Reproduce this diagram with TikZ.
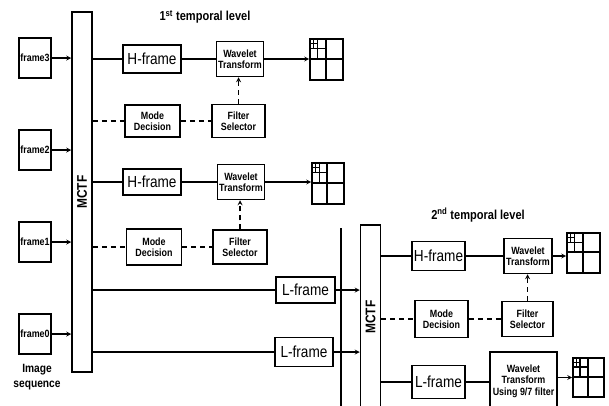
\documentclass[tikz,border=0pt]{standalone}
\usepackage{fontspec}
\setmainfont{Liberation Sans}[FakeStretch=0.85]

\tikzset{
  blk/.style={draw, line width=1.5pt, inner sep=0pt, align=center,
    font=\bfseries\fontsize{10.5}{11.5}\selectfont},
  seq/.style={blk, minimum width=32pt, minimum height=40pt},
  frm/.style={draw, line width=1.5pt, inner sep=0pt, font=\fontsize{16}{18}\selectfont},
  mctf/.style={draw, line width=1.5pt, minimum width=20pt, inner sep=0pt},
  bands/.style={draw, line width=1.6pt, inner sep=0pt},
  lnk/.style={line width=1.2pt},
  dsh/.style={lnk, dash pattern=on 5pt off 4pt},
  ttl/.style={font=\bfseries\fontsize{13}{15}\selectfont}
}

% sub-band picture inside a box node: name, width, height
\newcommand{\subbands}[3]{%
  \begin{scope}[shift={(#1.north west)}, x=#2pt, y=-#3pt]
    \draw[line width=1.6pt] (0.5,0) -- (0.5,1) (0,0.5) -- (1,0.5);
    \draw[line width=1.3pt] (0.25,0) -- (0.25,0.5) (0,0.25) -- (0.5,0.25);
    \draw[line width=1pt] (0.125,0) -- (0.125,0.25) (0,0.125) -- (0.25,0.125);
  \end{scope}}

\begin{document}
\begin{tikzpicture}[x=1pt, y=-1pt, >=stealth]
  \clip (0,0) rectangle (609,405);
  \useasboundingbox (0,0) rectangle (609,405);

  % image sequence
  \node[seq] (f3) at (35,58) {frame3};
  \node[seq] (f2) at (35,150) {frame2};
  \node[seq] (f1) at (35,242) {frame1};
  \node[seq] (f0) at (35,334) {frame0};
  \node[align=center, font=\bfseries\fontsize{12}{15}\selectfont] (iseq) at (37,377) {Image\\sequence};

  % 1st temporal level
  \node[ttl] (tA) at (205,17) {1\textsuperscript{st} temporal level};
  \node[mctf, minimum height=360pt] (mctfA) at (82,192) {};
  \node[rotate=90, font=\bfseries\fontsize{14}{15}\selectfont] (mA0) at (mctfA) {MCTF};

  \node[frm, minimum width=58pt, minimum height=28pt] (hA) at (152,59) {H-frame};
  \node[blk, minimum width=47pt, minimum height=35pt] (wA) at (240,59) {Wavelet\\Transform};
  \node[bands, minimum width=33pt, minimum height=41pt] (gA) at (326.5,59.5) {};
  \node[blk, minimum width=55pt, minimum height=32pt] (mA) at (152.5,121) {Mode\\Decision};
  \node[blk, minimum width=53pt, minimum height=33pt] (sA) at (238.5,121) {Filter\\Selector};

  \node[frm, minimum width=58pt, minimum height=26pt] (hB) at (152,182) {H-frame};
  \node[blk, minimum width=47pt, minimum height=35pt] (wB) at (241,182) {Wavelet\\Transform};
  \node[bands, minimum width=32pt, minimum height=41pt] (gB) at (328,183.5) {};
  \node[blk, minimum width=55pt, minimum height=36pt] (mB) at (154,247) {Mode\\Decision};
  \node[blk, minimum width=54pt, minimum height=34pt] (sB) at (240,247) {Filter\\Selector};

  \node[frm, minimum width=59pt, minimum height=26pt] (lA) at (305.5,290) {L-frame};
  \node[frm, minimum width=58pt, minimum height=29pt] (lB) at (304,352) {L-frame};

  \subbands{gA}{33}{41}
  \subbands{gB}{32}{41}

  \foreach \f in {f3,f2,f1,f0}
    \draw[lnk,->] (\f) -- (\f -| mctfA.west);

  \draw[lnk] (hA -| mctfA.east) -- (hA);
  \draw[lnk] (hA) -- (wA);
  \draw[lnk,->] (wA) -- (wA -| gA.west);
  \draw[dsh] (mA -| mctfA.east) -- (mA);
  \draw[dsh] (mA) -- (sA);
  \draw[dsh,->] (sA.north) -- (sA.north |- wA.south);

  \draw[lnk] (hB -| mctfA.east) -- (hB);
  \draw[lnk] (hB) -- (wB);
  \draw[lnk,->] (wB) -- (wB -| gB.west);
  \draw[dsh] (mB -| mctfA.east) -- (mB);
  \draw[dsh] (mB) -- (sB);
  \draw[dsh,->] (sB.north) -- (sB.north |- wB.south);

  \draw[lnk] (lA -| mctfA.east) -- (lA);
  \draw[lnk] (lB -| mctfA.east) -- (lB);

  % 2nd temporal level
  \node[ttl] (tB) at (478,215) {2\textsuperscript{nd} temporal level};
  \coordinate (sepT) at (341,228);
  \coordinate (sepB) at (341,410);
  \draw[line width=1.3pt] (sepT) -- (sepB);
  \node[mctf, minimum height=190pt] (mctfB) at (370.5,320) {};
  \node[rotate=90, font=\bfseries\fontsize{14}{15}\selectfont] (mB0) at (370.5,317) {MCTF};

  \node[frm, minimum width=53pt, minimum height=29pt] (hC) at (438.5,256) {H-frame};
  \node[blk, minimum width=48pt, minimum height=35pt] (wC) at (528,256) {Wavelet\\Transform};
  \node[bands, minimum width=33pt, minimum height=40pt] (gC) at (583.5,253) {};
  \node[blk, minimum width=53pt, minimum height=37pt] (mC) at (441.5,319) {Mode\\Decision};
  \node[blk, minimum width=51pt, minimum height=35pt] (sC) at (527.5,319) {Filter\\Selector};
  \node[frm, minimum width=53pt, minimum height=33pt] (lC) at (438.5,382) {L-frame};
  \node[blk, minimum width=67pt, minimum height=58pt] (wD) at (523.5,381) {Wavelet\\Transform\\Using 9/7 filter};
  \node[bands, minimum width=31pt, minimum height=39pt] (gD) at (588.5,377.5) {};

  \subbands{gC}{33}{40}
  \subbands{gD}{31}{39}

  \draw[lnk,->] (lA) -- (lA -| mctfB.west);
  \draw[lnk,->] (lB) -- (lB -| mctfB.west);

  \draw[lnk] (hC -| mctfB.east) -- (hC);
  \draw[lnk] (hC) -- (wC);
  \draw[lnk,->] (wC) -- (wC -| gC.west);
  \draw[dsh] (mC -| mctfB.east) -- (mC);
  \draw[dsh] (mC) -- (sC);
  \draw[dsh,->] (sC.north) -- (sC.north |- wC.south);
  \draw[lnk] (lC -| mctfB.east) -- (lC);
  \draw[lnk] (lC) -- (lC -| wD.west);
  \draw[lnk,->] (wD.east |- gD) -- (gD.west);
\end{tikzpicture}
\end{document}
